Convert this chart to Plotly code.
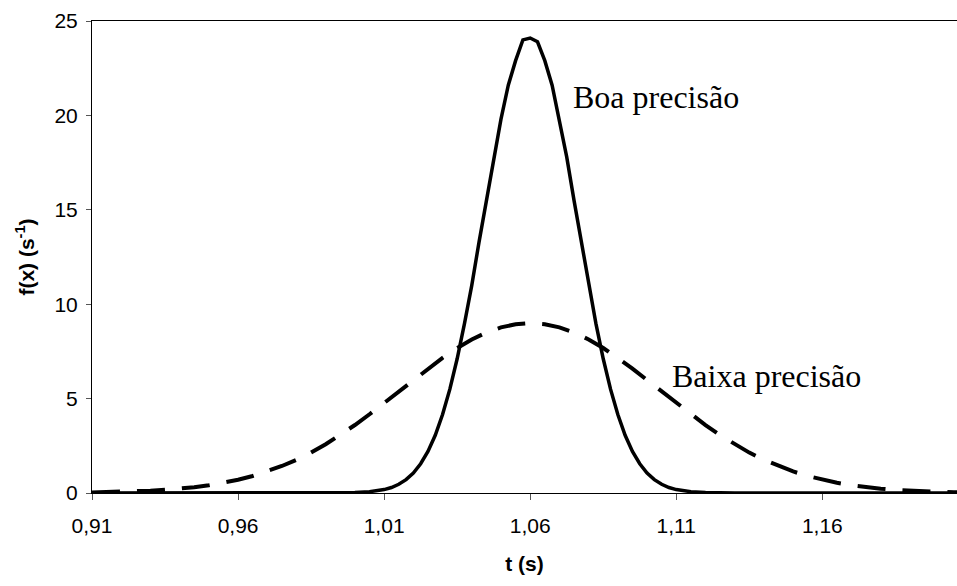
import plotly.graph_objects as go

# ---- data ----
# "Baixa precisão" (dashed) curve, sampled every 0.005 s
t_baixa = [0.910, 0.915, 0.920, 0.925, 0.930, 0.935, 0.940, 0.945, 0.950, 0.955,
           0.960, 0.965, 0.970, 0.975, 0.980, 0.985, 0.990, 0.995, 1.000, 1.005,
           1.010, 1.015, 1.020, 1.025, 1.030, 1.035, 1.040, 1.045, 1.050, 1.055,
           1.060, 1.065, 1.070, 1.075, 1.080, 1.085, 1.090, 1.095, 1.100, 1.105,
           1.110, 1.115, 1.120, 1.125, 1.130, 1.135, 1.140, 1.145, 1.150, 1.155,
           1.160, 1.165, 1.170, 1.175, 1.180, 1.185, 1.190, 1.195, 1.200, 1.205,
           1.210]
f_baixa = [0.03, 0.04, 0.06, 0.09, 0.12, 0.17, 0.23, 0.31, 0.41, 0.54,
           0.70, 0.90, 1.14, 1.43, 1.76, 2.14, 2.58, 3.06, 3.60, 4.17,
           4.76, 5.37, 5.98, 6.59, 7.16, 7.68, 8.13, 8.50, 8.77, 8.94,
           9.00, 8.94, 8.77, 8.50, 8.13, 7.68, 7.16, 6.59, 5.98, 5.37,
           4.76, 4.17, 3.60, 3.06, 2.58, 2.14, 1.76, 1.43, 1.14, 0.90,
           0.70, 0.54, 0.41, 0.31, 0.23, 0.17, 0.12, 0.09, 0.06, 0.04,
           0.03]

# "Boa precisão" (solid) curve
t_boa = [0.910, 0.990, 1.000, 1.0050, 1.0075, 1.0100, 1.0125, 1.0150, 1.0175, 1.0200,
         1.0225, 1.0250, 1.0275, 1.0300, 1.0325, 1.0350, 1.0375, 1.0400, 1.0425,
         1.0450, 1.0475, 1.0500, 1.0525, 1.0550, 1.0575, 1.0600, 1.0625, 1.0650,
         1.0675, 1.0700, 1.0725, 1.0750, 1.0775, 1.0800, 1.0825, 1.0850, 1.0875,
         1.0900, 1.0925, 1.0950, 1.0975, 1.1000, 1.1025, 1.1050, 1.1075, 1.1100,
         1.1125, 1.1150, 1.1200, 1.1300, 1.2100]
f_boa = [0.00, 0.00, 0.02, 0.07, 0.11, 0.18, 0.29, 0.46, 0.71, 1.06,
         1.55, 2.20, 3.06, 4.16, 5.50, 7.11, 8.97, 11.0, 13.3,
         15.5, 17.8, 19.8, 21.6, 22.9, 24.0, 24.1, 23.9, 22.9,
         21.6, 19.8, 17.8, 15.5, 13.3, 11.0, 8.97, 7.11, 5.50,
         4.16, 3.06, 2.20, 1.55, 1.06, 0.71, 0.46, 0.29, 0.18,
         0.11, 0.07, 0.02, 0.00, 0.00]

x_tickvals = [0.91, 0.96, 1.01, 1.06, 1.11, 1.16]
x_ticktext = ["0,91", "0,96", "1,01", "1,06", "1,11", "1,16"]
y_tickvals = [0, 5, 10, 15, 20, 25]

label_boa = "Boa precisão"
label_baixa = "Baixa precisão"

fig = go.Figure()
fig.add_trace(go.Scatter(x=t_baixa, y=f_baixa, mode="lines",
                         line=dict(color="black", width=4, dash="28px,17px"),
                         showlegend=False, hoverinfo="skip"))
fig.add_trace(go.Scatter(x=t_boa, y=f_boa, mode="lines",
                         line=dict(color="black", width=3.5),
                         showlegend=False, hoverinfo="skip"))

fig.add_annotation(x=1.0740, y=21.0, xref="x", yref="y", text=label_boa,
                   showarrow=False, xanchor="left", yanchor="middle",
                   font=dict(family="Liberation Serif", size=32, color="black"))
fig.add_annotation(x=1.1078, y=6.2, xref="x", yref="y", text=label_baixa,
                   showarrow=False, xanchor="left", yanchor="middle",
                   font=dict(family="Liberation Serif", size=32, color="black"))

fig.update_layout(
    width=957, height=586,
    margin=dict(l=92, r=0, t=21, b=93),
    paper_bgcolor="white", plot_bgcolor="white",
    font=dict(family="Liberation Sans", color="black"),
    xaxis=dict(range=[0.91, 1.2061], tickvals=x_tickvals, ticktext=x_ticktext,
               showgrid=False, zeroline=False, showline=True, linecolor="black",
               linewidth=1, mirror=True, ticks="outside", ticklen=6,
               tickcolor="#555555", tickfont=dict(size=21, color="black"),
               ticklabelstandoff=8,
               title=dict(text="<b>t (s)</b>", font=dict(size=21), standoff=20)),
    yaxis=dict(range=[0, 25], tickvals=y_tickvals, showgrid=False, zeroline=False,
               showline=True, linecolor="black", linewidth=1, ticks="outside",
               ticklen=5, tickcolor="#555555", tickfont=dict(size=21, color="black"),
               ticklabelstandoff=4,
               title=dict(text="<b>f(x) (s<sup>-1</sup>)</b>", font=dict(size=21),
                          standoff=14)),
)

fig.write_html("out.html")
